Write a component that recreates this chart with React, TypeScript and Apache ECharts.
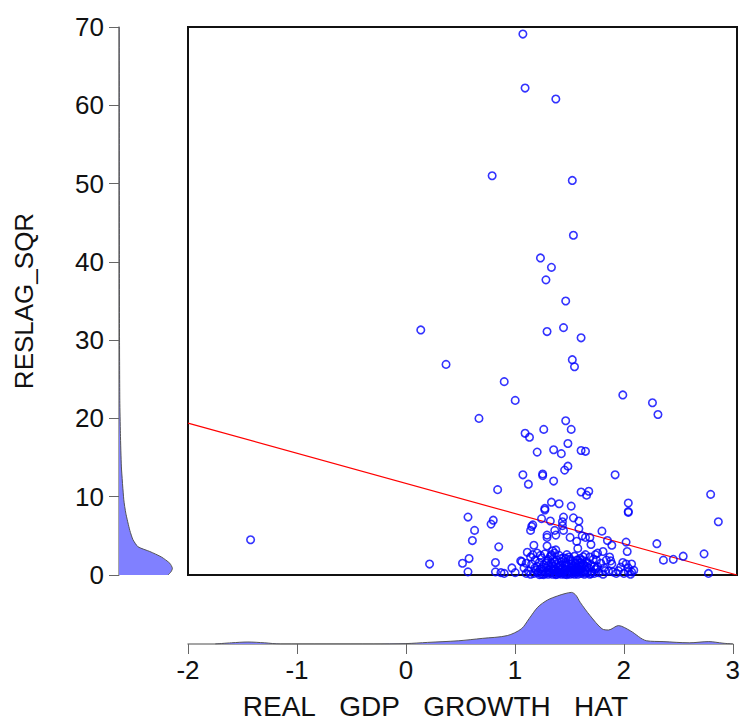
import React, { useEffect, useRef } from "react";
import * as echarts from "echarts";

// Scatter: x = REAL GDP GROWTH HAT, y = RESLAG_SQR
const scatterX: number[] = [
  1.05, 1.07, 1.35, 0.77, 1.50, 1.51, 1.21, 1.31, 1.26, 1.44, 0.12, 1.27, 1.42, 1.58, 0.35, 1.50, 1.52, 0.88, 0.98, 1.96,
  2.23, 2.28, 0.65, 1.44, 1.24, 1.49, 1.07, 1.11, 1.46, 1.18, 1.33, 1.40, 1.58, 1.62, 1.46, 1.43, 1.05, 1.23, 1.23, 1.89,
  1.33, 1.10, 0.82, 1.58, 1.65, 1.63, 2.01, 2.01, 2.01, 2.76, 2.83, 1.31, 1.38, 1.49, 1.25, 1.25, 0.55, 0.78, 0.76, 1.22,
  1.30, 1.42, 1.51, 1.56, 1.14, 1.13, 1.12, 0.61, 1.41, 1.41, 1.42, 1.34, 1.56, 1.77, 1.27, 1.27, 1.35, 1.48, 1.59, 1.62,
  1.66, 1.54, 1.67, 1.82, 1.86, 1.99, 2.27, 0.59, 0.83, 1.15, 1.27, 1.32, 1.35, 1.09, 1.55, 1.78, 1.71, 2.00, 1.84, 1.85,
  1.86, 2.33, 2.42, 2.51, 2.70, 2.74, 1.96, 1.99, 2.04, 2.06, 2.01, 2.04, 2.01, 1.92, 1.87, 1.83, 1.80, 1.73, 1.72, 1.63,
  1.61, 1.60, 1.59, 1.55, 1.57, -1.43, 0.20, 0.50, 0.56, 0.55, 0.80, 0.80, 0.85, 0.88, 0.95, 0.98, 1.04, 1.06, 1.08, 1.12,
  1.03,
  1.15, 1.17, 1.18, 1.19, 1.20, 1.21, 1.22, 1.22, 1.23, 1.24, 1.25, 1.25, 1.26, 1.27, 1.27, 1.28, 1.28, 1.29, 1.30, 1.30,
  1.31, 1.31, 1.32, 1.32, 1.33, 1.33, 1.34, 1.34, 1.35, 1.35, 1.36, 1.36, 1.37, 1.37, 1.38, 1.38, 1.39, 1.39, 1.40, 1.40,
  1.41, 1.41, 1.42, 1.42, 1.43, 1.43, 1.44, 1.44, 1.45, 1.45, 1.46, 1.46, 1.47, 1.47, 1.48, 1.48, 1.49, 1.49, 1.50, 1.50,
  1.51, 1.51, 1.52, 1.52, 1.53, 1.53, 1.54, 1.54, 1.55, 1.56, 1.56, 1.57, 1.58, 1.58, 1.59, 1.60, 1.61, 1.62, 1.63, 1.64,
  1.65, 1.66, 1.67, 1.68, 1.69, 1.70, 1.71, 1.74, 1.76, 1.78, 1.79, 1.81, 1.90, 1.94, 1.97, 2.03, 1.13, 1.14, 1.16, 1.10,
  1.08, 1.12, 1.18, 1.20, 1.24, 1.35, 1.45, 1.55, 1.62, 1.66, 1.72, 1.73,
  1.16, 1.19, 1.21, 1.23, 1.26, 1.29, 1.31, 1.34, 1.36, 1.38, 1.40, 1.43, 1.45, 1.47, 1.50, 1.52, 1.54, 1.57, 1.59, 1.61,
  1.64, 1.67, 1.70, 1.28, 1.33, 1.39, 1.44, 1.49, 1.53, 1.58,
];
const scatterY: number[] = [
  69.1, 62.2, 60.8, 51.0, 50.4, 43.4, 40.5, 39.3, 37.7, 35.0, 31.3, 31.1, 31.6, 30.3, 26.9, 27.5, 26.6, 24.7, 22.3, 23.0,
  22.0, 20.5, 20.0, 19.7, 18.6, 18.6, 18.1, 17.6, 16.8, 15.7, 16.0, 15.5, 15.9, 15.8, 13.9, 13.4, 12.8, 12.9, 12.7, 12.8,
  12.0, 11.6, 10.9, 10.6, 10.7, 10.2, 9.2, 8.1, 8.0, 10.3, 6.8, 9.3, 9.1, 8.8, 8.5, 8.3, 7.4, 7.0, 6.5, 7.2,
  6.9, 7.4, 7.3, 6.9, 6.4, 6.2, 5.7, 5.7, 6.8, 6.3, 5.7, 5.7, 5.9, 5.6, 5.1, 4.8, 5.1, 4.8, 5.0, 4.8,
  4.8, 4.3, 3.9, 4.4, 3.8, 4.2, 4.0, 4.4, 3.6, 3.8, 3.7, 3.1, 3.2, 2.9, 3.4, 3.0, 2.6, 3.0, 2.3, 1.8,
  1.4, 1.9, 2.0, 2.4, 2.7, 0.2, 1.6, 1.4, 1.4, 0.6, 0.9, 0.4, 0.4, 0.55, 0.4, 0.5, 0.55, 1.06, 0.86, 1.06,
  1.19, 2.34, 1.9, 1.9, 1.5, 4.5, 1.4, 1.5, 2.1, 0.4, 1.6, 0.4, 0.3, 0.2, 0.9, 0.3, 1.7, 0.9, 1.5, 2.3,
  1.8,
  0.2, 0.6, 1.1, 0.3, 1.6, 0.8, 0.1, 2.2, 0.5, 1.3, 0.2, 2.7, 0.9, 0.4, 1.8, 0.1, 1.2, 0.6, 2.4, 0.3,
  1.5, 0.8, 0.1, 2.0, 0.5, 1.1, 0.2, 2.8, 0.7, 1.4, 0.1, 1.9, 0.4, 1.0, 0.2, 2.5, 0.6, 1.3, 0.1, 1.7,
  0.9, 0.3, 2.2, 0.5, 1.2, 0.1, 0.7, 1.6, 0.3, 2.6, 1.0, 0.2, 0.6, 1.4, 0.1, 2.0, 0.4, 0.9, 1.8, 0.2,
  0.6, 1.2, 0.1, 2.4, 0.5, 1.5, 0.3, 0.9, 0.1, 1.1, 0.4, 2.1, 0.2, 0.8, 0.5, 1.4, 0.1, 0.6, 1.7, 0.3,
  0.9, 0.1, 1.3, 0.4, 2.0, 0.2, 0.7, 0.3, 1.5, 0.1, 0.9, 1.9, 0.2, 1.0, 0.2, 0.1, 1.4, 2.6, 1.9, 0.5,
  0.2, 0.1, 2.8, 0.05, 0.05, 0.05, 0.05, 0.6, 2.6, 2.3, 1.9, 2.8,
  0.9, 0.4, 2.5, 1.0, 1.5, 0.3, 2.6, 1.7, 0.5, 1.1, 2.1, 0.6, 1.3, 2.3, 1.0, 0.4, 1.9, 0.6, 1.1, 0.3,
  1.5, 0.2, 1.1, 2.0, 0.8, 0.3, 2.1, 1.4, 0.7, 1.6,
];

// Fitted regression line end points
const fitX: number[] = [-2, 3];
const fitY: number[] = [19.4, 0.0];

// Kernel density of x (bottom panel)
const xDensX: number[] = [
  -1.75, -1.6, -1.45, -1.3, -1.15, -0.3, 0.0, 0.2, 0.48, 0.7, 0.93, 1.06, 1.13, 1.21, 1.30, 1.39, 1.46, 1.52, 1.56, 1.60,
  1.69, 1.80, 1.86, 1.95, 2.06, 2.21, 2.36, 2.60, 2.78, 2.91, 3.0,
];
const xDensV: number[] = [
  0, 0.003, 0.005, 0.003, 0, 0, 0.001, 0.004, 0.008, 0.014, 0.021, 0.038, 0.063, 0.092, 0.110, 0.120, 0.126, 0.129, 0.122, 0.104,
  0.071, 0.038, 0.035, 0.046, 0.033, 0.008, 0.006, 0.003, 0.006, 0.002, 0,
];

// Kernel density of y (left panel)
const yDensY: number[] = [0, 0.4, 0.86, 1.5, 2.3, 3.0, 3.6, 4.5, 5.7, 7.9, 9.6, 13.8, 18.1, 22.3, 30, 40, 50, 60, 70];
const yDensV: number[] = [
  0.1225, 0.130, 0.1335, 0.127, 0.106, 0.077, 0.0475, 0.035, 0.027, 0.017, 0.012, 0.006, 0.0035, 0.002, 0.0013, 0.001,
  0.0008, 0.0008, 0.0005,
];

const xTicks: number[] = [-2, -1, 0, 1, 2, 3];
const yTicks: number[] = [0, 10, 20, 30, 40, 50, 60, 70];

const xName = "REAL\u00a0\u00a0\u00a0GDP\u00a0\u00a0\u00a0GROWTH\u00a0\u00a0\u00a0HAT";
const yName = "RESLAG_SQR";

const FONT = "'Liberation Sans', Arial, Helvetica, sans-serif";
const FS = 26;

export default function App() {
  const ref = useRef<HTMLDivElement>(null);
  useEffect(() => {
    if (!ref.current) return;
    const chart = echarts.init(ref.current, null, { renderer: "svg" });
    const scatterData = scatterX.map((x, i) => [x, scatterY[i]]);
    const fitData = fitX.map((x, i) => [x, fitY[i]]);
    const xDensData = xDensX.map((x, i) => [x, xDensV[i]]);

    chart.setOption({
      animation: false,
      backgroundColor: "#fff",
      textStyle: { fontFamily: FONT },
      grid: [
        { left: 188, top: 27, width: 549, height: 548, show: true, borderColor: "#111", borderWidth: 2, backgroundColor: "transparent" },
        { left: 119, top: 27, width: 56, height: 548 },
        { left: 188, top: 588, width: 549, height: 56 },
      ],
      xAxis: [
        { gridIndex: 0, type: "value", min: -2, max: 3, show: false },
        { gridIndex: 1, type: "value", min: 0, max: 0.14, show: false },
        {
          gridIndex: 2, type: "value", min: -2, max: 3, interval: 1,
          axisLine: { show: true, lineStyle: { color: "#888", width: 1.5 } },
          axisTick: { show: true, length: 10, lineStyle: { color: "#666", width: 1 } },
          axisLabel: { fontSize: FS, color: "#111", margin: 13, fontFamily: FONT, formatter: (v: number) => (xTicks.includes(v) ? String(v) : "") },
          splitLine: { show: false },
          name: xName,
          nameLocation: "middle",
          nameGap: 48,
          nameTextStyle: { fontSize: 28, color: "#111", fontFamily: FONT, padding: [0, 50, 0, 0] },
        },
      ],
      yAxis: [
        { gridIndex: 0, type: "value", min: 0, max: 70, show: false },
        {
          gridIndex: 1, type: "value", min: 0, max: 70, interval: 10,
          axisLine: { show: true, lineStyle: { color: "#888", width: 1.5 } },
          axisTick: { show: true, length: 10, lineStyle: { color: "#666", width: 1 } },
          axisLabel: { fontSize: FS, color: "#111", margin: 15, fontFamily: FONT, formatter: (v: number) => (yTicks.includes(v) ? String(v) : "") },
          splitLine: { show: false },
          name: yName,
          nameLocation: "middle",
          nameGap: 82,
          nameTextStyle: { fontSize: FS, color: "#111", fontFamily: FONT },
        },
        { gridIndex: 2, type: "value", min: 0, max: 0.14, show: false },
      ],
      series: [
        {
          type: "line",
          xAxisIndex: 0, yAxisIndex: 0,
          data: fitData,
          symbol: "none",
          lineStyle: { color: "#ff0000", width: 1.2 },
          z: 3,
        },
        {
          type: "scatter",
          xAxisIndex: 0, yAxisIndex: 0,
          data: scatterData,
          symbol: "circle",
          symbolSize: 7.5,
          itemStyle: { color: "rgba(0,0,0,0)", borderColor: "#0000ff", borderWidth: 1.6 },
          z: 4,
        },
        {
          type: "line",
          xAxisIndex: 2, yAxisIndex: 2,
          data: xDensData,
          symbol: "none",
          smooth: 0.3,
          lineStyle: { color: "#555", width: 1 },
          areaStyle: { color: "#8080ff", opacity: 1 },
        },
        {
          type: "custom",
          xAxisIndex: 1, yAxisIndex: 1,
          data: [[0, 0]],
          renderItem: (_params: any, api: any) => {
            const pts: number[][] = yDensY.map((y, i) => api.coord([yDensV[i], y]));
            const fill = pts.concat([api.coord([0, yDensY[yDensY.length - 1]]), api.coord([0, yDensY[0]])]);
            return {
              type: "group",
              children: [
                { type: "polygon", shape: { points: fill }, style: { fill: "#8080ff", stroke: "none" } },
                { type: "polyline", shape: { points: pts, smooth: 0.2 }, style: { fill: "none", stroke: "#555", lineWidth: 1 } },
              ],
            };
          },
        },
      ],
    });
    return () => chart.dispose();
  }, []);
  return <div ref={ref} style={{ position: "absolute", left: 0, top: 0, width: 743, height: 721 }} />;
}
